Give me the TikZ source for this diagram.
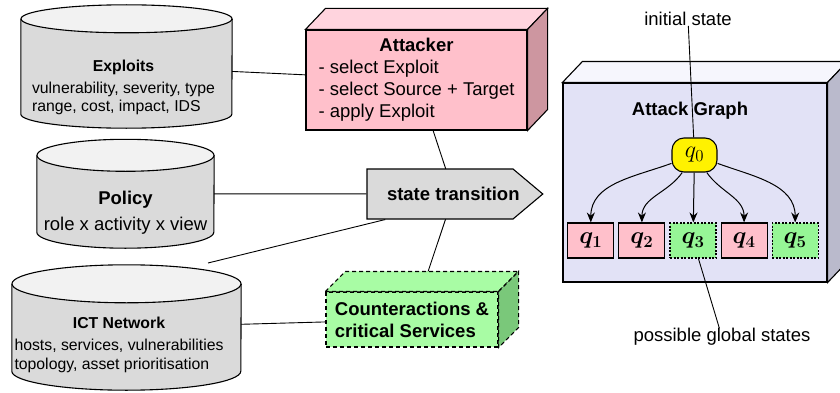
\RequirePackage{fix-cm}
\documentclass[tikz,border=0pt]{standalone}
\usepackage{fontspec}
\setmainfont{Liberation Sans}
\usepackage{amsmath}
\usepackage{tikz}
\usetikzlibrary{
  shapes.geometric, shapes.symbols, arrows.meta, positioning, calc, backgrounds
}
\definecolor{dbtop}{RGB}{242,242,242}
\definecolor{dbbody}{RGB}{218,218,218}
\definecolor{atfront}{RGB}{255,192,203}
\definecolor{attop}{RGB}{255,212,222}
\definecolor{atside}{RGB}{205,150,160}
\definecolor{agfront}{RGB}{226,226,246}
\definecolor{agtop}{RGB}{246,246,253}
\definecolor{agside}{RGB}{186,186,204}
\definecolor{csfront}{RGB}{168,252,164}
\definecolor{csside}{RGB}{122,200,122}
\definecolor{qred}{RGB}{255,192,203}
\definecolor{qgreen}{RGB}{150,246,150}
\tikzstyle{txt}      = [font=\fontsize{18.5}{22}\selectfont, inner sep=0pt]
\tikzstyle{smalltxt} = [font=\fontsize{15.8}{18.5}\selectfont, inner sep=0pt]
\tikzstyle{db}       = [rectangle, inner sep=0pt]
\tikzstyle{box3d}    = [rectangle, draw, line width=1.1pt]
\tikzstyle{qbox}     = [rectangle, draw, line width=1.1pt, minimum width=46, minimum height=35,
                        inner sep=0pt, font=\fontsize{24}{26}\selectfont\boldmath]
\tikzstyle{link}     = [line width=0.9pt]
\tikzstyle{arrow}    = [line width=1pt, -{Stealth[length=10pt,width=8pt]}]

\begin{document}
\begin{tikzpicture}[x=1pt, y=1pt]
  \useasboundingbox (0,0) rectangle (840,392);

  % --- Databases ---
  \node[db, minimum width=211, minimum height=95]   (exploits) at (126.5, 325.5) {};
  \node[db, minimum width=177, minimum height=76.5] (policy)   at (125.5, 198.25) {};
  \node[db, minimum width=229, minimum height=87]   (ict)      at (126.5, 64.5) {};
  \foreach \n/\rx/\ry in {exploits/105.5/14, policy/88.5/16, ict/114.5/19} {
    \draw[line width=1.1pt, fill=dbbody] (\n.north west) -- (\n.south west)
      arc[start angle=180, end angle=360, x radius=\rx, y radius=\ry] -- (\n.north east);
    \draw[line width=1.1pt, fill=dbtop] (\n.north) ellipse[x radius=\rx, y radius=\ry];
  }
  \node[smalltxt] (exploitstxt) at (123.5, 304) {\begin{tabular}{@{}l@{}}
      \multicolumn{1}{@{}c@{}}{\textbf{Exploits}}\\[3pt]
      vulnerability, severity, type\\ range, cost, impact, IDS\end{tabular}};
  \node[txt, align=center] (policytxt) at (125.5, 179) {\textbf{Policy}\\[4pt] role x activity x view};
  \node[smalltxt] (icttxt) at (119, 47) {\begin{tabular}{@{}l@{}}
      \multicolumn{1}{@{}c@{}}{\textbf{ICT Network}}\\[4pt]
      hosts, services, vulnerabilities\\ topology, asset prioritisation\end{tabular}};

  % --- 3D boxes ---
  \node[box3d, txt, fill=atfront, minimum width=221, minimum height=100] (att) at (416.5, 312)
    {\begin{tabular}{@{}l@{}}\multicolumn{1}{@{}c@{}}{\textbf{Attacker}}\\
      - select Exploit\\ - select Source + Target\\ - apply Exploit\end{tabular}};
  \node[box3d, fill=agfront, minimum width=264, minimum height=199] (ag) at (695, 209.5) {};
  \node[box3d, txt, dash pattern=on 4pt off 3pt, fill=csfront, align=left,
        minimum width=172, minimum height=55,
        font=\fontsize{18.5}{22}\selectfont\bfseries] (ctr) at (412, 72.5)
    {Counteractions \&\\critical Services};

  \foreach \n/\ft/\fs in {att/attop/atside, ag/agtop/agside} {
    \draw[line width=1.1pt, fill=\ft] (\n.north west) -- ++(20,21)
      -- ([shift={(20,21)}]\n.north east) -- (\n.north east) -- cycle;
    \draw[line width=1.1pt, fill=\fs] (\n.north east) -- ([shift={(20,21)}]\n.north east)
      -- ([shift={(20,21)}]\n.south east) -- (\n.south east) -- cycle;
  }
  \draw[line width=1.1pt, dash pattern=on 4pt off 3pt, fill=csfront] (ctr.north west) -- ++(20,20)
    -- ([shift={(20,20)}]ctr.north east) -- (ctr.north east) -- cycle;
  \draw[line width=1.1pt, dash pattern=on 4pt off 3pt, fill=csside] (ctr.north east)
    -- ([shift={(20,20)}]ctr.north east) -- ([shift={(20,20)}]ctr.south east) -- (ctr.south east) -- cycle;

  % --- State transition ---
  \node[signal, signal to=east, signal pointer angle=80, draw, line width=1.1pt, fill=dbbody,
        inner sep=0pt, minimum width=175, minimum height=50,
        font=\fontsize{18.5}{22}\selectfont\bfseries] (st) at (440, 198)
    {\makebox[146pt][l]{\hspace{20pt}state transition}};

  % --- Attack graph ---
  \node[txt, font=\fontsize{18.5}{22}\selectfont\bfseries] (agtitle) at (690, 281) {Attack Graph};
  \node[draw, line width=1.1pt, fill=yellow, rounded corners=12pt, minimum width=45,
        minimum height=34, inner sep=0pt, font=\fontsize{24}{26}\selectfont] (q0) at (694.5, 237) {$q_0$};
  \node[qbox, fill=qgreen, dash pattern=on 2pt off 1.5pt] (q3) at (693, 151.5) {$q_3$};
  \node[qbox, fill=qred, left=4pt of q3]  (q2) {$q_2$};
  \node[qbox, fill=qred, left=4pt of q2]  (q1) {$q_1$};
  \node[qbox, fill=qred, right=4pt of q3] (q4) {$q_4$};
  \node[qbox, fill=qgreen, dash pattern=on 2pt off 1.5pt, right=4pt of q4] (q5) {$q_5$};

  \node[txt] (init) at (688, 373) {initial state};
  \node[txt] (poss) at (722, 55)  {possible global states};

  % Connections
  \begin{pgfonlayer}{background}
    \draw[link] (att) -- ([xshift=14pt]st.center);
    \draw[link] ([xshift=14pt]st.center) -- (ctr);
  \end{pgfonlayer}
  \draw[link] (exploits) -- (att);
  \draw[link] (policy) -- (st);
  \draw[link] (ict) -- (ctr);
  \draw[link] (st.205) -- ([shift={(81.5,64.5)}]ict.center);
  \draw[link] (init) -- (q0);
  \draw[link] (q3) -- (poss);

  \draw[arrow] (q0) to[out=200, in=90] (q1);
  \draw[arrow] (q0) to[out=235, in=90] (q2);
  \draw[arrow] (q0) -- (q3);
  \draw[arrow] (q0) to[out=-55, in=90] (q4);
  \draw[arrow] (q0) to[out=-20, in=90] (q5);
\end{tikzpicture}
\end{document}
